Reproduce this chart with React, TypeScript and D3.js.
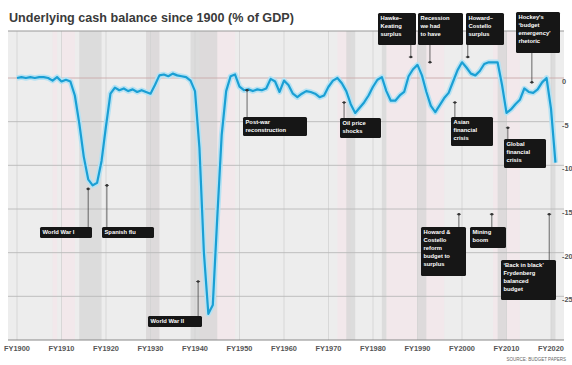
import React, { useEffect, useRef } from "react";
import * as d3 from "d3";

// underlying cash balance, % of GDP, FY1900 onwards
const firstYear = 1900;
const cashBalance = [
  0, 0.1, 0, 0.1, 0, 0.1, 0.1, 0, -0.3, 0.1,
  -0.4, -0.2, -0.4, -2.0, -5.2, -9.0, -11.6, -12.3, -12.0, -9.5,
  -5.5, -1.8, -1.1, -1.4, -1.2, -1.5, -1.3, -1.6, -1.4, -1.6,
  -1.8, -0.8, 0.3, 0.4, 0.2, 0.5, 0.3, 0.2, 0.1, -0.3,
  -1.5, -8, -20, -27, -26, -16, -6.5, -1.5, 0.2, 0.4,
  -1.0, -1.4, -1.3, -1.5, -1.3, -1.4, -1.2, -0.1, -0.4, -1.6,
  -0.3, -0.8, -1.8, -2.2, -1.8, -1.5, -1.6, -1.8, -2.2, -2.0,
  -1.0, -0.3, 0, -0.6, -1.5, -3.0, -4.0, -3.4, -2.8, -2.0,
  -1.0, -0.2, 0.1, -1.5, -2.6, -2.6, -2.0, -1.6, 0.2, 1.0,
  1.5, 0.3, -1.6, -3.2, -3.9, -3.1, -2.3, -1.7, -0.4, 0.9,
  1.8, 1.2, 0.5, 0.3, 0.8, 1.6, 1.8, 1.8, 1.8, -0.8,
  -4.0, -3.6, -3.0, -2.5, -1.2, -1.6, -1.7, -1.3, -0.5, 0.0,
  -3.5, -9.7,
];

const xTicks = [1900, 1910, 1920, 1930, 1940, 1950, 1960, 1970, 1980, 1990, 2000, 2010, 2020];
const yTicks = [0, -5, -10, -15, -20, -25];

// shaded periods (wars, recessions)
const shadedPeriods = [
  [1914, 1919], [1929, 1932], [1939, 1945], [1974, 1976],
  [1982, 1983], [1990, 1992], [2008, 2010], [2020, 2021],
];
// faint tinted periods
const tintedPeriods = [
  [1908, 1909], [1910, 1913], [1929, 1932], [1941, 1949],
  [1972, 1975], [1983, 1996], [2007, 2013],
];

// annotation text, year pointed at and the pointer's tip (% of GDP)
const notes = [
  { lines: ["Hawke–", "Keating", "surplus"], year: 1988.5, tip: 2.4 },
  { lines: ["Recession", "we had", "to have"], year: 1992.8, tip: 1.8 },
  { lines: ["Howard–", "Costello", "surplus"], year: 2001.3, tip: 2.4 },
  { lines: ["Hockey's", "‘budget", "emergency’", "rhetoric"], year: 2015.7, tip: -0.5 },
  { lines: ["World War I"], year: 1916, tip: -12.7 },
  { lines: ["Spanish flu"], year: 1920.2, tip: -12.3 },
  { lines: ["World War II"], year: 1940.7, tip: -23.3 },
  { lines: ["Post-war", "reconstruction"], year: 1951.7, tip: -1.4 },
  { lines: ["Oil price", "shocks"], year: 1973.5, tip: -2.8 },
  { lines: ["Asian", "financial", "crisis"], year: 1998.4, tip: -2.8 },
  { lines: ["Global", "financial", "crisis"], year: 2010.3, tip: -5.7 },
  { lines: ["Howard &", "Costello", "reform", "budget to", "surplus"], year: 1999.3, tip: -15.6 },
  { lines: ["Mining", "boom"], year: 2006.7, tip: -15.6 },
  { lines: ["‘Back in black’", "Frydenberg", "balanced", "budget"], year: 2019.6, tip: -15.6 },
];

// box placement for each note: [x, y, w, h]
const noteBoxes = [
  [378, 13, 38, 32], [418, 13, 45, 32], [466, 13, 38, 32], [516, 12, 44, 41],
  [40, 227, 52, 11], [102, 227, 52, 11], [148, 316, 54, 11], [243, 117, 64, 19],
  [340, 118, 41, 20], [451, 117, 42, 29], [504, 139, 42, 29], [421, 227, 45, 49],
  [470, 227, 36, 21], [501, 260, 55, 40],
];

function CashChart() {
  const ref = useRef<SVGSVGElement | null>(null);

  useEffect(() => {
    drawChart();
  }, []);

  function drawChart() {
    const width = 572;
    const height = 365;
    const plot = { left: 8, right: 564, top: 31, bottom: 340 };
    const font = "Liberation Sans, Arial, sans-serif";

    const svg = d3.select(ref.current);
    svg.selectAll("*").remove();
    svg.attr("width", width).attr("height", height);

    const xScale = d3.scaleLinear().domain([1900, 2020]).range([17, 551]);
    const yScale = d3.scaleLinear().domain([-30, 6]).range([340, 25.6]);

    const data = cashBalance.map((v, i) => ({ year: firstYear + i, value: v }));

    svg.append("rect").attr("width", width).attr("height", height).attr("fill", "#fff");

    svg
      .append("text")
      .attr("x", 9)
      .attr("y", 22)
      .attr("font-family", font)
      .attr("font-size", 12.6)
      .attr("font-weight", "bold")
      .attr("fill", "#3a3a3a")
      .text("Underlying cash balance since 1900 (% of GDP)");

    // plot background
    svg
      .append("rect")
      .attr("x", plot.left)
      .attr("y", plot.top)
      .attr("width", plot.right - plot.left)
      .attr("height", plot.bottom - plot.top)
      .attr("fill", "#ededed");

    svg
      .append("g")
      .selectAll("rect")
      .data(tintedPeriods)
      .join("rect")
      .attr("x", (d) => xScale(d[0]))
      .attr("width", (d) => xScale(d[1]) - xScale(d[0]))
      .attr("y", plot.top)
      .attr("height", plot.bottom - plot.top)
      .attr("fill", "#f4e6ea")
      .attr("opacity", 0.7);

    svg
      .append("g")
      .selectAll("rect")
      .data(shadedPeriods)
      .join("rect")
      .attr("x", (d) => xScale(d[0]))
      .attr("width", (d) => xScale(d[1]) - xScale(d[0]))
      .attr("y", plot.top)
      .attr("height", plot.bottom - plot.top)
      .attr("fill", "#d6d6d6")
      .attr("opacity", 0.75);

    // vertical grid
    svg
      .append("g")
      .selectAll("line")
      .data(xTicks)
      .join("line")
      .attr("x1", (d) => xScale(d))
      .attr("x2", (d) => xScale(d))
      .attr("y1", plot.top)
      .attr("y2", plot.bottom)
      .attr("stroke", "#d2d2d2")
      .attr("stroke-width", 0.8);

    // horizontal grid
    svg
      .append("g")
      .selectAll("line")
      .data(yTicks)
      .join("line")
      .attr("x1", plot.left)
      .attr("x2", plot.right)
      .attr("y1", (d) => yScale(d))
      .attr("y2", (d) => yScale(d))
      .attr("stroke", (d) => (d === 0 ? "#c9a9a9" : "#b9b9b9"))
      .attr("stroke-width", 0.9);

    // title rule
    svg
      .append("line")
      .attr("x1", plot.left)
      .attr("x2", plot.right)
      .attr("y1", plot.top)
      .attr("y2", plot.top)
      .attr("stroke", "#999")
      .attr("stroke-width", 1);

    // x axis
    svg
      .append("line")
      .attr("x1", plot.left)
      .attr("x2", plot.right)
      .attr("y1", plot.bottom)
      .attr("y2", plot.bottom)
      .attr("stroke", "#888")
      .attr("stroke-width", 1);

    svg
      .append("g")
      .selectAll("text")
      .data(xTicks)
      .join("text")
      .attr("x", (d) => xScale(d))
      .attr("y", 350.5)
      .attr("text-anchor", "middle")
      .attr("font-family", font)
      .attr("font-size", 7.4)
      .attr("font-weight", "bold")
      .attr("fill", "#555")
      .text((d) => "FY" + d);

    svg
      .append("g")
      .selectAll("text")
      .data(yTicks)
      .join("text")
      .attr("x", 562)
      .attr("y", (d) => yScale(d) + 6)
      .attr("font-family", font)
      .attr("font-size", 7.4)
      .attr("font-weight", "bold")
      .attr("fill", "#555")
      .text((d) => d);

    svg
      .append("text")
      .attr("x", 566)
      .attr("y", 361)
      .attr("text-anchor", "end")
      .attr("font-family", font)
      .attr("font-size", 4.5)
      .attr("fill", "#666")
      .text("SOURCE: BUDGET PAPERS");

    // line
    const line = d3
      .line<{ year: number; value: number }>()
      .x((d) => xScale(d.year))
      .y((d) => yScale(d.value))
      .curve(d3.curveLinear);

    svg
      .append("path")
      .datum(data)
      .attr("d", line)
      .attr("fill", "none")
      .attr("stroke", "#b6e2f3")
      .attr("stroke-width", 5.5)
      .attr("stroke-linejoin", "round");

    svg
      .append("path")
      .datum(data)
      .attr("d", line)
      .attr("fill", "none")
      .attr("stroke", "#1a9fd4")
      .attr("stroke-width", 2.2)
      .attr("stroke-linejoin", "round");

    // annotations
    const g = svg.append("g");
    notes.forEach((n, i) => {
      const [bx, by, bw, bh] = noteBoxes[i];
      const px = xScale(n.year);
      const py = yScale(n.tip);
      const edge = py < by ? by : by + bh;
      g.append("line")
        .attr("x1", px)
        .attr("x2", px)
        .attr("y1", edge)
        .attr("y2", py)
        .attr("stroke", "#444")
        .attr("stroke-width", 0.8);
      g.append("line")
        .attr("x1", px - 2)
        .attr("x2", px + 2)
        .attr("y1", py)
        .attr("y2", py)
        .attr("stroke", "#333")
        .attr("stroke-width", 0.8);
      g.append("circle").attr("cx", px).attr("cy", py).attr("r", 1.3).attr("fill", "#333");

      g.append("rect")
        .attr("x", bx)
        .attr("y", by)
        .attr("width", bw)
        .attr("height", bh)
        .attr("rx", 1.5)
        .attr("fill", "#161616");

      const t = g
        .append("text")
        .attr("font-family", font)
        .attr("font-size", 5.8)
        .attr("font-weight", "bold")
        .attr("fill", "#fff");
      n.lines.forEach((l, j) => {
        t.append("tspan")
          .attr("x", bx + 2.5)
          .attr("y", by + 7.3 + j * 8)
          .text(l);
      });
    });
  }

  return <svg ref={ref} style={{ display: "block" }} />;
}

export default function App() {
  useEffect(() => {
    document.body.style.margin = "0";
  }, []);
  return <CashChart />;
}
